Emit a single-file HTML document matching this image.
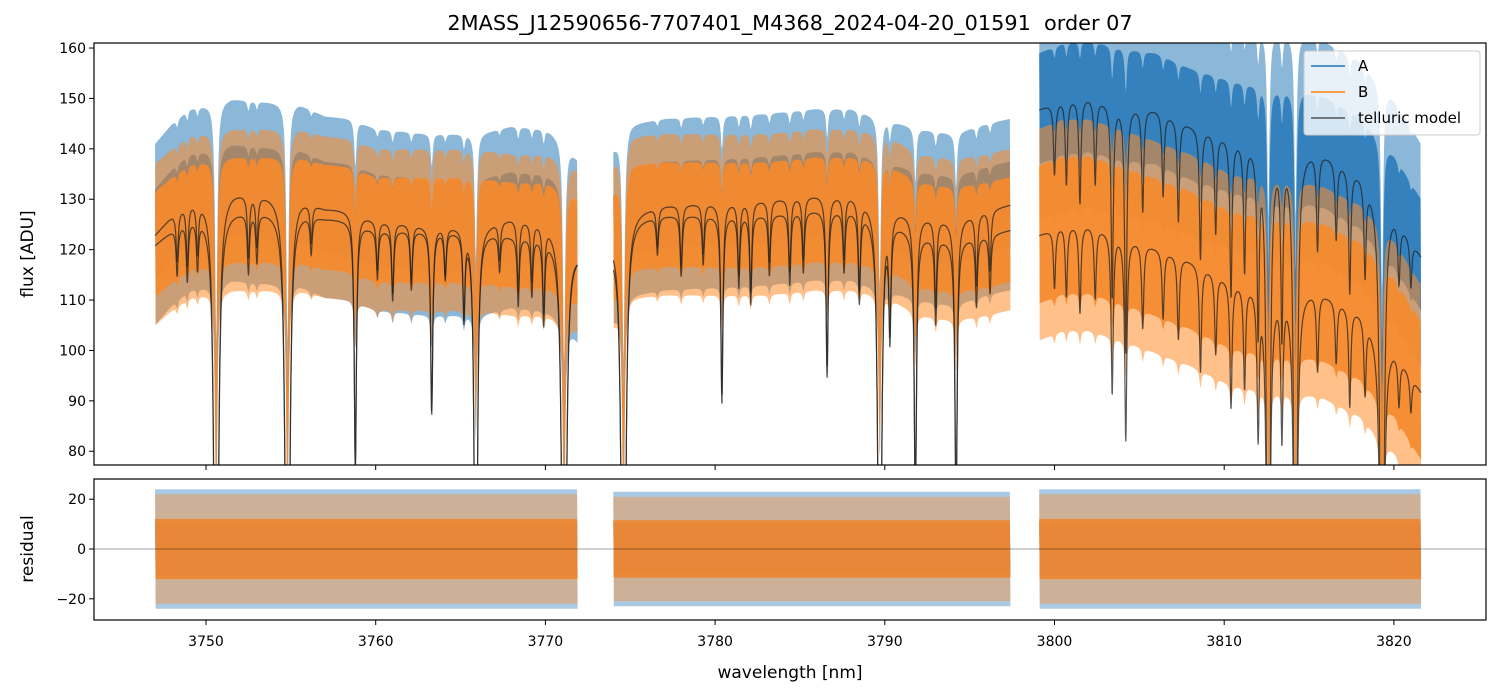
<!DOCTYPE html>
<html><head><meta charset="utf-8"><style>
html,body{margin:0;padding:0;background:#fff;overflow:hidden;width:1502px;height:696px;position:relative;}
svg{display:block;position:absolute;left:0;top:0;font-family:"DejaVu Sans","Liberation Sans",sans-serif;}
</style></head><body>
<svg id="chart" width="1502" height="696" viewBox="0 0 1502 696" xmlns="http://www.w3.org/2000/svg">
<rect x="0" y="0" width="1502" height="696" fill="#fff"/>
<text x="790" y="30" text-anchor="middle" font-size="20.8" fill="#000">2MASS_J12590656-7707401_M4368_2024-04-20_01591&#160; order 07</text>
<defs>
<clipPath id="clipTop"><rect x="94" y="43" width="1392" height="422"/></clipPath>
<clipPath id="clipBot"><rect x="94" y="479" width="1392" height="141"/></clipPath>
</defs>
<g id="topPlot" clip-path="url(#clipTop)"></g>
<g id="botPlot" clip-path="url(#clipBot)"></g>
<g id="axes"></g>
<text transform="translate(33,254) rotate(-90)" text-anchor="middle" font-size="17">flux [ADU]</text>
<text transform="translate(33,549) rotate(-90)" text-anchor="middle" font-size="17">residual</text>
<text x="790" y="678" text-anchor="middle" font-size="17">wavelength [nm]</text>
<g>
<rect x="1304" y="51" width="176" height="84" rx="3" fill="#fff" fill-opacity="0.8" stroke="#ccc"/>
<line x1="1311" y1="66" x2="1345" y2="66" stroke="#1f77b4" stroke-width="1.5"/>
<text x="1358" y="71" font-size="15">A</text>
<line x1="1311" y1="92" x2="1345" y2="92" stroke="#ff7f0e" stroke-width="1.5"/>
<text x="1358" y="97" font-size="15">B</text>
<line x1="1311" y1="118" x2="1345" y2="118" stroke="#222" stroke-opacity="0.75" stroke-width="1.5"/>
<text x="1358" y="123" font-size="15">telluric model</text>
</g>
</svg>
<script>
// ---- data ----
const segStart=[3747.0,3774.0,3799.1];
const segEnd=[3771.9,3797.4,3821.6];
const contW=[3747,3748,3749,3750.3,3751.5,3753,3755.5,3757,3758.5,3760,3763,3766,3768,3770,3771,3771.9,
 3774,3775,3777,3780,3783,3786,3788,3790,3792,3794,3796,3797.4,
 3799.1,3800.5,3802,3804,3806,3808,3810.5,3813,3815.6,3818,3820,3821.6];
const contA=[123,127,130,131,132,131.5,131,128.5,128,126,125,125,126.5,126,124,120,
 123,128,129,129.5,130,131,131,129,127,126,128,129,
 148,150,150.5,149,148,145,142.5,141,140,135.5,128,119];
const contB=[121,124,126.5,127.5,128,128,128,126.5,126,124,124,124,123,123,122,120,
 121,126.5,127,127,127,128,128,127,123,122,123,124,
 123,125,125,123,120.5,118,114,113,112,108,101,92];
const dipC=[3748.3,3748.9,3749.5,3750.6,3752.5,3753.0,3754.8,3756.2,3758.8,3760.1,3761.0,3762.1,3763.3,3764.1,3765.2,3765.9,3767.3,3768.4,3769.2,3769.9,3771.1,
 3774.6,3776.6,3778.0,3779.3,3780.4,3781.4,3782.1,3783.2,3784.4,3785.2,3786.6,3787.6,3788.5,3789.7,3790.3,3791.8,3793.0,3794.2,3795.4,3796.2,
 3800.0,3800.7,3801.5,3802.4,3803.4,3804.2,3805.2,3806.4,3807.3,3808.6,3809.5,3810.4,3811.2,3812.0,3812.6,3813.4,3814.2,3815.5,3816.6,3817.4,3818.3,3819.3,3820.3,3821.0];
const dipT=[0.08,0.1,0.08,3.0,0.1,0.08,3.0,0.06,0.5,0.08,0.12,0.1,0.35,0.08,0.15,1.5,0.06,0.12,0.1,0.15,3.0,
 3.0,0.06,0.1,0.08,0.35,0.12,0.15,0.1,0.12,0.1,0.3,0.1,0.15,2.0,0.2,0.6,0.15,0.6,0.12,0.1,
 0.1,0.12,0.15,0.12,0.3,0.4,0.15,0.12,0.15,0.2,0.15,0.25,0.2,0.3,2.0,0.3,2.0,0.15,0.12,0.2,0.15,2.5,0.1,0.08];
const ampA=[18,17,22];
const ampB=[16,16,21];
const resA=[24,23,24];
const resB=[22,21,22];
const fluxTicks=[80,90,100,110,120,130,140,150,160];
const resTicks=[-20,0,20];
const wlTicks=[3750,3760,3770,3780,3790,3800,3810,3820];
// ---- scales ----
const X=w=>94+(w-3743.4)*16.97;
const YT=f=>43+(161-f)*5.04;
const YR=r=>549-r*2.49;
const NS="http://www.w3.org/2000/svg";
function mk(tag,attrs,parent){const e=document.createElementNS(NS,tag);for(const k in attrs)e.setAttribute(k,attrs[k]);parent.appendChild(e);return e;}
function cont(arr,w){for(let i=0;i<contW.length-1;i++){if(w>=contW[i]&&w<=contW[i+1]){const t=(w-contW[i])/(contW[i+1]-contW[i]);return arr[i]+t*(arr[i+1]-arr[i]);}}return w<contW[0]?arr[0]:arr[arr.length-1];}
function tau(w){let t=0;for(let i=0;i<dipC.length;i++){const d=w-dipC[i],g=0.07;t+=dipT[i]*g*g/(d*d+g*g);}return t;}
function model(arr,w){return cont(arr,w)*Math.exp(-tau(w));}
function bandCenter(arr,w){return cont(arr,w)*Math.exp(-0.15*tau(w));}
const topG=document.getElementById('topPlot'),botG=document.getElementById('botPlot'),axG=document.getElementById('axes');
const step=0.03;
function band(parent,fn,amp,frac,color,op,name){
 for(let s=0;s<3;s++){
  const up=[],lo=[];
  for(let w=segStart[s];w<=segEnd[s];w+=step){up.push(X(w).toFixed(1)+','+fn(w,amp[s]*frac).toFixed(1));}
  for(let w=segEnd[s];w>=segStart[s];w-=step){lo.push(X(w).toFixed(1)+','+fn(w,-amp[s]*frac).toFixed(1));}
  const p=mk('polygon',{points:up.concat(lo).join(' '),fill:color,'fill-opacity':op},parent);
  
  
 }
}
const fA=(w,a)=>YT(bandCenter(contA,w)+a);
const fB=(w,a)=>YT(bandCenter(contB,w)+a);
band(topG,fA,ampA,1.0,'#2b7bb9',0.55,'flux-a-band-outer');
band(topG,fA,ampA,0.5,'#2b7bb9',0.9,'flux-a-band-core');
band(topG,fB,ampB,1.0,'#ff8c28',0.55,'flux-b-band-outer');
band(topG,fB,ampB,0.65,'#f58a2e',0.92,'flux-b-band-core');
for(const [arr,nm] of [[contA,'model-a'],[contB,'model-b']]){
 for(let s=0;s<3;s++){
  const pts=[];
  for(let w=segStart[s];w<=segEnd[s];w+=0.015)pts.push(X(w).toFixed(1)+','+YT(model(arr,w)).toFixed(1));
  const l=mk('polyline',{points:pts.join(' '),fill:'none',stroke:'#222','stroke-opacity':0.75,'stroke-width':1.2},topG);
  
  
 }
}
const rf=(w,a)=>YR(a);
band(botG,rf,resA,1.0,'#2b7bb9',0.4,'residual-a-band-outer');
band(botG,rf,resA,0.45,'#2b7bb9',0.9,'residual-a-band-core');
band(botG,rf,resB,1.0,'#ff8c28',0.4,'residual-b-band-outer');
band(botG,rf,resB,0.55,'#ee8733',0.94,'residual-b-band-core');
const zl=mk('line',{x1:94,x2:1486,y1:YR(0),y2:YR(0),stroke:'#000','stroke-opacity':0.5,'stroke-width':0.8},botG);


for(const [y0,h,nm] of [[43,422,'flux-axes-frame'],[479,141,'residual-axes-frame']]){
 const r=mk('rect',{x:94,y:y0,width:1392,height:h,fill:'none',stroke:'#000','stroke-width':1.2},axG);
 
 
}
for(const t of fluxTicks){
 const y=YT(t);
 mk('line',{x1:89,x2:94,y1:y,y2:y,stroke:'#000'},axG);
 const tx=mk('text',{x:86,y:y+5,'text-anchor':'end','font-size':14},axG);tx.textContent=t;
 
 
}
for(const t of resTicks){
 const y=YR(t);
 mk('line',{x1:89,x2:94,y1:y,y2:y,stroke:'#000'},axG);
 const tx=mk('text',{x:86,y:y+5,'text-anchor':'end','font-size':14},axG);tx.textContent=(t<0?'\u2212'+(-t):t);
 
 
}
for(const t of wlTicks){
 const x=X(t);
 mk('line',{x1:x,x2:x,y1:465,y2:470,stroke:'#000'},axG);
 mk('line',{x1:x,x2:x,y1:620,y2:625,stroke:'#000'},axG);
 const tx=mk('text',{x:x,y:646,'text-anchor':'middle','font-size':14},axG);tx.textContent=t;
 
 
}
</script>
</body></html>
